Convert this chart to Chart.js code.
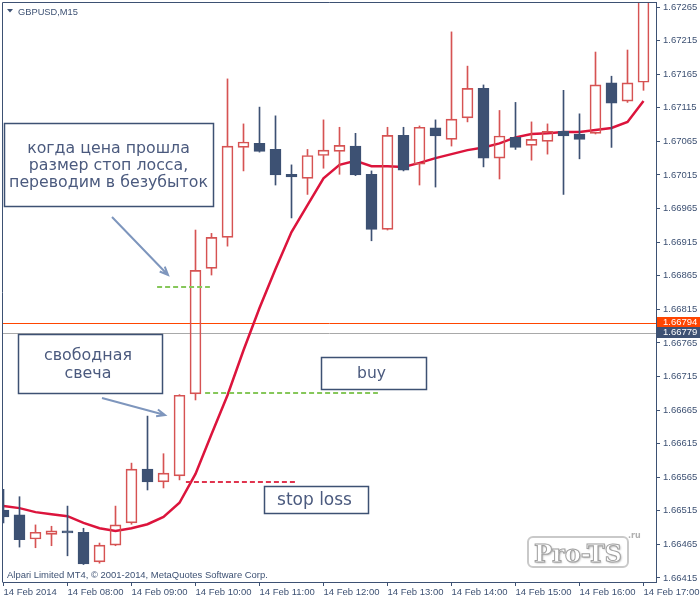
<!DOCTYPE html>
<html>
<head>
<meta charset="utf-8">
<script src="https://cdn.jsdelivr.net/npm/chart.js@4.4.0/dist/chart.umd.min.js"></script>
<style>
body { margin: 0; background: #fff; }
canvas { display: block; }
</style>
</head>
<body>
<canvas id="chart" width="700" height="600"></canvas>
<script>
// GBPUSD M15, бары с 07:00 до 17:00
const openP  = [1.66516, 1.66509, 1.66473, 1.66480, 1.66485, 1.66483, 1.66439, 1.66464, 1.66497, 1.66577,
                1.66558, 1.66567, 1.66689, 1.66876, 1.66922, 1.67056, 1.67062, 1.67053, 1.67016, 1.67010,
                1.67044, 1.67050, 1.67058, 1.67016, 1.66934, 1.67074, 1.67031, 1.67085, 1.67068, 1.67100,
                1.67144, 1.67040, 1.67071, 1.67059, 1.67065, 1.67080, 1.67076, 1.67077, 1.67152, 1.67125,
                1.67153]
const highP  = [1.66547, 1.66536, 1.66494, 1.66492, 1.66522, 1.66489, 1.66467, 1.66522, 1.66586, 1.66656,
                1.66600, 1.66688, 1.66933, 1.66928, 1.67158, 1.67091, 1.67116, 1.67103, 1.67030, 1.67053,
                1.67097, 1.67086, 1.67077, 1.67021, 1.67086, 1.67086, 1.67088, 1.67097, 1.67228, 1.67177,
                1.67149, 1.67111, 1.67123, 1.67094, 1.67091, 1.67141, 1.67106, 1.67198, 1.67162, 1.67201,
                1.67295]
const lowP   = [1.66497, 1.66461, 1.66460, 1.66463, 1.66448, 1.66435, 1.66437, 1.66463, 1.66495, 1.66546,
                1.66549, 1.66561, 1.66680, 1.66866, 1.66909, 1.67021, 1.67049, 1.67000, 1.66951, 1.66986,
                1.67025, 1.67016, 1.67014, 1.66917, 1.66933, 1.67021, 1.67000, 1.66997, 1.67058, 1.67094,
                1.67027, 1.67009, 1.67053, 1.67037, 1.67046, 1.66986, 1.67039, 1.67076, 1.67056, 1.67123,
                1.67141]
const closeP = [1.66506, 1.66472, 1.66483, 1.66485, 1.66482, 1.66436, 1.66464, 1.66494, 1.66577, 1.66558,
                1.66571, 1.66687, 1.66873, 1.66922, 1.67058, 1.67064, 1.67050, 1.67015, 1.67012, 1.67044,
                1.67052, 1.67059, 1.67015, 1.66934, 1.67074, 1.67022, 1.67086, 1.67073, 1.67098, 1.67144,
                1.67040, 1.67073, 1.67056, 1.67068, 1.67080, 1.67073, 1.67068, 1.67149, 1.67122, 1.67152,
                1.67290]
// скользящая средняя
const maP    = [1.66522, 1.66519, 1.66513, 1.66510, 1.66507, 1.66497, 1.66489, 1.66485, 1.66489, 1.66495,
                1.66506, 1.66527, 1.66570, 1.66629, 1.66687, 1.66754, 1.66817, 1.66875, 1.66930, 1.66970,
                1.67010, 1.67030, 1.67036, 1.67028, 1.67028, 1.67027, 1.67033, 1.67040, 1.67046, 1.67052,
                1.67056, 1.67062, 1.67071, 1.67076, 1.67077, 1.67079, 1.67079, 1.67082, 1.67085, 1.67094,
                1.67125]

const xTickBars   = [0, 4, 8, 12, 16, 20, 24, 28, 32, 36, 40]
const xTickLabels = ['14 Feb 2014', '14 Feb 08:00', '14 Feb 09:00', '14 Feb 10:00', '14 Feb 11:00', '14 Feb 12:00',
                     '14 Feb 13:00', '14 Feb 14:00', '14 Feb 15:00', '14 Feb 16:00', '14 Feb 17:00']
const yTicks = [1.66415, 1.66465, 1.66515, 1.66565, 1.66615, 1.66665, 1.66715, 1.66765, 1.66815, 1.66865,
                1.66915, 1.66965, 1.67015, 1.67065, 1.67115, 1.67165, 1.67215, 1.67265]

const bidPrice = 1.66794
const askPrice = 1.66779
const breakEvenLevel = 1.66848
const buyLevel = 1.66690
const stopLevel = 1.66558

const FRAME = '#3d5173'
const BULL = '#d65353'
const BEAR = '#3d5173'
const TXT = '#4b5a7e'
const tickFont = { family: 'Liberation Sans', size: 9.5 }

const isBull = openP.map((o, i) => closeP[i] >= o)
const bodies = openP.map((o, i) => ({ x: i, y: [o, closeP[i]] }))
const upperWicks = openP.map((o, i) => ({ x: i, y: [Math.max(o, closeP[i]), highP[i]] }))
const lowerWicks = openP.map((o, i) => ({ x: i, y: [lowP[i], Math.min(o, closeP[i])] }))
const candleColors = isBull.map(b => b ? BULL : BEAR)

function fitSize(ctx, text, width, family, weight) {
  ctx.font = (weight || '') + ' 20px ' + family
  return 20 * width / ctx.measureText(text).width
}

function arrow(ctx, x1, y1, x2, y2) {
  const a = Math.atan2(y2 - y1, x2 - x1)
  ctx.beginPath()
  ctx.moveTo(x1, y1); ctx.lineTo(x2, y2)
  ctx.moveTo(x2 - 9 * Math.cos(a - 0.4), y2 - 9 * Math.sin(a - 0.4))
  ctx.lineTo(x2, y2)
  ctx.lineTo(x2 - 9 * Math.cos(a + 0.4), y2 - 9 * Math.sin(a + 0.4))
  ctx.stroke()
}

// текстовый блок в рамке
function textBox(ctx, box, lines, cx, baselines, widest, widestW) {
  ctx.fillStyle = '#fff'
  ctx.fillRect(box[0], box[1], box[2] - box[0], box[3] - box[1])
  ctx.strokeStyle = FRAME
  ctx.lineWidth = 1.5
  ctx.strokeRect(box[0], box[1], box[2] - box[0], box[3] - box[1])
  const size = fitSize(ctx, widest, widestW, '"DejaVu Sans"')
  ctx.font = size + 'px "DejaVu Sans"'
  ctx.fillStyle = TXT
  ctx.textAlign = 'center'
  ctx.textBaseline = 'alphabetic'
  lines.forEach((t, i) => ctx.fillText(t, cx, baselines[i]))
}

const mtPlugin = {
  id: 'mt4',
  beforeDatasetsDraw(chart) {
    const { ctx, chartArea: a, scales: { y } } = chart
    ctx.save()
    ctx.lineWidth = 1
    let py = Math.round(y.getPixelForValue(bidPrice)) + 0.5
    ctx.strokeStyle = '#ff4500'
    ctx.beginPath(); ctx.moveTo(a.left, py); ctx.lineTo(a.right, py); ctx.stroke()
    py = Math.round(y.getPixelForValue(askPrice)) + 0.5
    ctx.strokeStyle = '#a9a9a9'
    ctx.beginPath(); ctx.moveTo(a.left, py); ctx.lineTo(a.right, py); ctx.stroke()
    ctx.restore()
  },
  afterDatasetsDraw(chart) {
    const { ctx, scales: { x, y } } = chart
    ctx.save()
    ctx.lineWidth = 2
    ctx.setLineDash([5, 3])
    const lvl = (price, from, to, color) => {
      const py = Math.round(y.getPixelForValue(price))
      ctx.strokeStyle = color
      ctx.beginPath(); ctx.moveTo(x.getPixelForValue(from), py); ctx.lineTo(x.getPixelForValue(to), py); ctx.stroke()
    }
    lvl(breakEvenLevel, 9.6, 12.9, '#86c75a')
    lvl(buyLevel, 12.6, 23.4, '#86c75a')
    lvl(stopLevel, 11.4, 18.3, '#e0344e')
    ctx.restore()
  },
  afterDraw(chart) {
    const { ctx, chartArea: a, scales: { y } } = chart
    ctx.save()
    // рамка
    ctx.strokeStyle = FRAME
    ctx.lineWidth = 1
    ctx.beginPath()
    ctx.moveTo(2.5, a.bottom + 0.5); ctx.lineTo(2.5, 2.5); ctx.lineTo(a.right + 1, 2.5)
    ctx.stroke()

    // метки bid / ask на шкале
    ctx.font = tickFont.size + 'px ' + tickFont.family
    ctx.textAlign = 'left'
    ctx.textBaseline = 'middle'
    let py = Math.round(y.getPixelForValue(bidPrice))
    ctx.fillStyle = '#ff4500'
    ctx.fillRect(a.right + 1, py - 6, 700 - a.right - 1, 11)
    ctx.fillStyle = '#fff'
    ctx.fillText(bidPrice.toFixed(5), 663, py - 0.5)
    py = Math.round(y.getPixelForValue(askPrice))
    ctx.fillStyle = BEAR
    ctx.fillRect(a.right + 1, py - 6, 700 - a.right - 1, 11)
    ctx.fillStyle = '#fff'
    ctx.fillText(askPrice.toFixed(5), 663, py - 0.5)

    // заголовок
    ctx.fillStyle = FRAME
    ctx.beginPath(); ctx.moveTo(7, 9); ctx.lineTo(13, 9); ctx.lineTo(10, 12.5); ctx.closePath(); ctx.fill()
    let s = fitSize(ctx, 'GBPUSD,M15', 60, '"Liberation Sans"')
    ctx.font = s + 'px "Liberation Sans"'
    ctx.textBaseline = 'alphabetic'
    ctx.fillText('GBPUSD,M15', 18, 14.5)

    s = fitSize(ctx, 'Alpari Limited MT4, © 2001-2014, MetaQuotes Software Corp.', 261, '"Liberation Sans"')
    ctx.font = s + 'px "Liberation Sans"'
    ctx.fillText('Alpari Limited MT4, © 2001-2014, MetaQuotes Software Corp.', 7, 578)

    // подписи
    textBox(ctx, [4.5, 123.5, 213.5, 206.5], ['когда цена прошла', 'размер стоп лосса,', 'переводим в безубыток'],
      108.5, [153, 170, 187], 'переводим в безубыток', 199)
    textBox(ctx, [18.5, 334.5, 162.5, 393.5], ['свободная', 'свеча'], 88, [360, 378], 'свободная', 88)
    textBox(ctx, [321.5, 357.5, 426.5, 389.5], ['buy'], 371.5, [378], 'buy', 29)
    textBox(ctx, [264.5, 486.5, 368.5, 513.5], ['stop loss'], 314.5, [505], 'stop loss', 75)

    ctx.strokeStyle = '#7e96bd'
    ctx.lineWidth = 2
    arrow(ctx, 112, 217, 168, 275)
    arrow(ctx, 102, 398, 165, 415)

    // водяной знак
    ctx.fillStyle = '#fff'
    ctx.strokeStyle = '#c9c9c9'
    ctx.lineWidth = 2
    ctx.beginPath()
    ctx.roundRect(528, 537, 100, 30, 5)
    ctx.fill(); ctx.stroke()
    s = fitSize(ctx, 'Pro-TS', 88, '"DejaVu Serif"', 'bold')
    ctx.font = 'bold ' + s + 'px "DejaVu Serif"'
    ctx.textAlign = 'center'
    ctx.shadowColor = 'rgba(0,0,0,0.35)'
    ctx.shadowOffsetX = 1; ctx.shadowOffsetY = 1; ctx.shadowBlur = 2
    ctx.fillStyle = '#fff'
    ctx.fillText('Pro-TS', 578, 562)
    ctx.shadowColor = 'transparent'
    ctx.strokeStyle = '#a0a0a0'
    ctx.lineWidth = 1
    ctx.strokeText('Pro-TS', 578, 562)
    ctx.font = 'bold 8px "DejaVu Sans"'
    ctx.fillStyle = '#b0b0b0'
    ctx.textAlign = 'left'
    ctx.fillText('.ru', 628, 538)
    ctx.restore()
  }
}

const ctx = document.getElementById('chart').getContext('2d')
const chart = new Chart(ctx, {
  type: 'bar',
  data: {
    datasets: [
      {
        type: 'line', data: maP.map((v, i) => ({ x: i, y: v })),
        borderColor: '#dc143c', borderWidth: 2.5, pointRadius: 0, tension: 0, order: 3, clip: 0
      },
      {
        data: lowerWicks, backgroundColor: candleColors, borderWidth: 0,
        barThickness: 1, order: 2, clip: 0
      },
      {
        data: upperWicks, backgroundColor: candleColors, borderWidth: 0,
        barThickness: 1, order: 2, clip: 0
      },
      {
        data: bodies,
        backgroundColor: isBull.map(b => b ? 'rgba(255,255,255,0)' : BEAR),
        borderColor: candleColors, borderWidth: 1, borderSkipped: false,
        barThickness: 11, order: 1, clip: 0
      }
    ]
  },
  options: {
    responsive: false,
    animation: false,
    events: [],
    layout: { padding: { left: 3, top: 3, right: 0, bottom: 0 } },
    plugins: { legend: { display: false }, tooltip: { enabled: false } },
    datasets: { bar: { grouped: false } },
    scales: {
      x: {
        type: 'linear', min: -1 / 32, max: 40.78125, offset: false,
        afterBuildTicks: s => { s.ticks = xTickBars.map(v => ({ value: v })) },
        afterFit: s => { s.height = 18; s.paddingLeft = 0; s.paddingRight = 0 },
        grid: { drawOnChartArea: false, offset: false, tickLength: 4, color: FRAME },
        border: { color: FRAME },
        ticks: {
          align: 'start', maxRotation: 0, autoSkip: false, padding: 1,
          font: tickFont, color: FRAME,
          callback: (v, i) => xTickLabels[i]
        }
      },
      y: {
        position: 'right', min: 1.66409, max: 1.67271,
        afterBuildTicks: s => { s.ticks = yTicks.map(v => ({ value: v })) },
        afterFit: s => { s.width = 44; s.paddingTop = 0; s.paddingBottom = 0 },
        grid: { drawOnChartArea: false, tickLength: 4, color: FRAME },
        border: { color: FRAME },
        ticks: {
          padding: 3, font: tickFont, color: FRAME,
          callback: v => v.toFixed(5)
        }
      }
    }
  },
  plugins: [mtPlugin]
})
</script>
</body>
</html>
